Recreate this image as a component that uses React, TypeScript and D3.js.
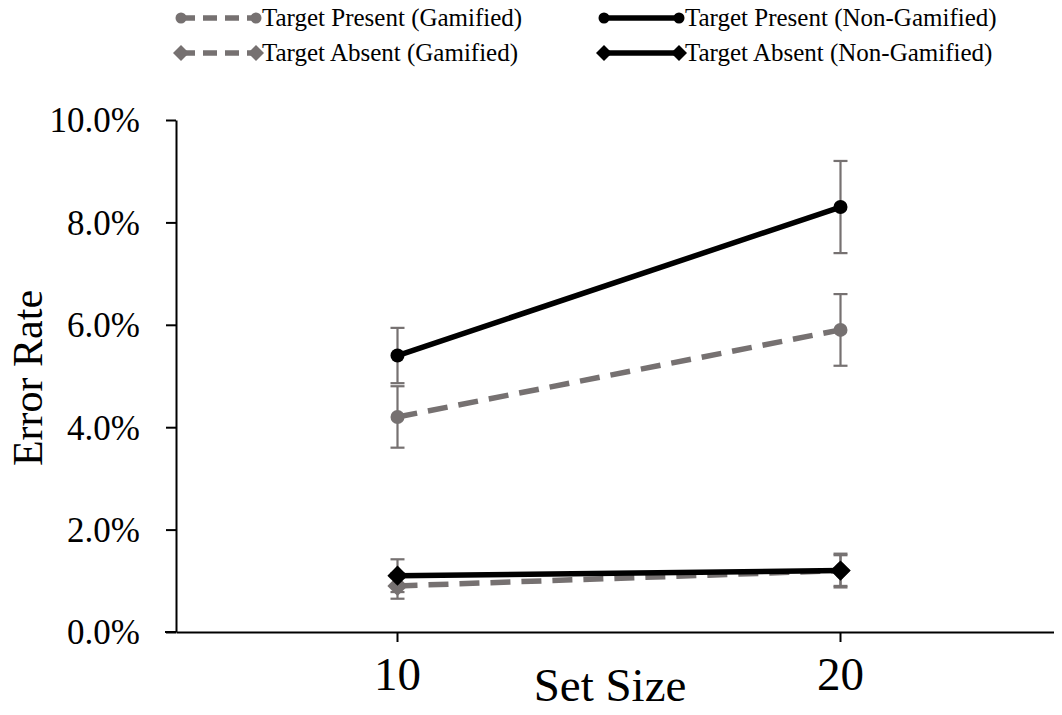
import React, { useRef, useEffect } from 'react';
import * as d3 from 'd3';

const setSizes = ['10', '20'];
const tpGamified = [4.2, 5.9];
const tpGamifiedErr = [0.6, 0.7];
const tpNonGamified = [5.4, 8.3];
const tpNonGamifiedErr = [0.54, 0.9];
const taGamified = [0.9, 1.2];
const taGamifiedErr = [0.25, 0.3];
const taNonGamified = [1.1, 1.2];
const taNonGamifiedErr = [0.32, 0.33];
const yTicks = [0, 2, 4, 6, 8, 10];

const GRAY = '#767171';
const FONT = '"Liberation Serif", "Times New Roman", serif';

const series = [
  { name: 'Target Present (Gamified)', values: tpGamified, err: tpGamifiedErr, color: GRAY, dash: '20,11', marker: 'circle' },
  { name: 'Target Present (Non-Gamified)', values: tpNonGamified, err: tpNonGamifiedErr, color: '#000', dash: null, marker: 'circle' },
  { name: 'Target Absent (Gamified)', values: taGamified, err: taGamifiedErr, color: GRAY, dash: '20,11', marker: 'diamond' },
  { name: 'Target Absent (Non-Gamified)', values: taNonGamified, err: taNonGamifiedErr, color: '#000', dash: null, marker: 'diamond' },
];

const W = 1062;
const H = 715;

const drawMarker = (g, type, x, y, color, size) => {
  if (type === 'circle') {
    g.append('circle').attr('cx', x).attr('cy', y).attr('r', size).attr('fill', color);
  } else {
    const s = size * 1.45;
    g.append('path')
      .attr('d', `M${x},${y - s}L${x + s},${y}L${x},${y + s}L${x - s},${y}Z`)
      .attr('fill', color);
  }
};

const Chart = () => {
  const svgRef = useRef(null);
  useEffect(() => {
    const svg = d3.select(svgRef.current);
    svg.selectAll('*').remove();

    const x = d3.scaleBand().domain(setSizes).range([176, 1062]);
    const y = d3.scaleLinear().domain([0, 10]).range([632, 120]);
    const cx = (d) => x(d) + x.bandwidth() / 2;

    // y axis
    const yAxis = svg.append('g').attr('transform', 'translate(176,0)')
      .call(d3.axisLeft(y).tickValues(yTicks).tickSize(10).tickSizeOuter(0).tickPadding(26).tickFormat((v) => `${v.toFixed(1)}%`));
    yAxis.select('.domain').attr('stroke', '#000').attr('stroke-width', 2);
    yAxis.selectAll('line').attr('stroke', '#000').attr('stroke-width', 2);
    yAxis.selectAll('text').attr('font-family', FONT).attr('font-size', 35).attr('fill', '#000').attr('dy', '0.34em');

    // x axis
    const xAxis = svg.append('g').attr('transform', 'translate(0,632)')
      .call(d3.axisBottom(x).tickSize(10).tickSizeOuter(0).tickPadding(14));
    xAxis.select('.domain').attr('stroke', '#000').attr('stroke-width', 2);
    xAxis.selectAll('line').attr('stroke', '#000').attr('stroke-width', 2);
    xAxis.selectAll('text').attr('font-family', FONT).attr('font-size', 47).attr('fill', '#000').attr('dy', '0.72em');
    svg.append('line').attr('x1', 165).attr('x2', 176).attr('y1', 632).attr('y2', 632).attr('stroke', '#000').attr('stroke-width', 2);

    // axis titles
    svg.append('text').attr('x', 610).attr('y', 701).attr('text-anchor', 'middle')
      .attr('font-family', FONT).attr('font-size', 47).text('Set Size');
    svg.append('text').attr('transform', 'translate(42,378) rotate(-90)').attr('text-anchor', 'middle')
      .attr('font-family', FONT).attr('font-size', 42).text('Error Rate');

    // error bars
    const eb = svg.append('g');
    series.forEach((s) => {
      s.values.forEach((v, i) => {
        const px = cx(setSizes[i]);
        const top = y(v + s.err[i]);
        const bot = y(v - s.err[i]);
        eb.append('line').attr('x1', px).attr('x2', px).attr('y1', top).attr('y2', bot).attr('stroke', GRAY).attr('stroke-width', 2.2);
        [top, bot].forEach((yy) => {
          eb.append('line').attr('x1', px - 7).attr('x2', px + 7).attr('y1', yy).attr('y2', yy).attr('stroke', GRAY).attr('stroke-width', 2.2);
        });
      });
    });

    // lines and markers
    const line = d3.line().x((d, i) => cx(setSizes[i])).y((d) => y(d));
    series.forEach((s) => {
      const g = svg.append('g');
      g.append('path').attr('d', line(s.values)).attr('fill', 'none').attr('stroke', s.color)
        .attr('stroke-width', 5.5).attr('stroke-dasharray', s.dash);
      s.values.forEach((v, i) => drawMarker(g, s.marker, cx(setSizes[i]), y(v), s.color, 7));
    });

    // legend
    const legendPos = [
      { x: 181, y: 18 },
      { x: 604, y: 18 },
      { x: 181, y: 53 },
      { x: 604, y: 53 },
    ];
    series.forEach((s, i) => {
      const p = legendPos[i];
      const g = svg.append('g');
      g.append('line').attr('x1', p.x).attr('x2', p.x + 75).attr('y1', p.y).attr('y2', p.y)
        .attr('stroke', s.color).attr('stroke-width', 5.5).attr('stroke-dasharray', s.dash ? '14,8' : null);
      drawMarker(g, s.marker, p.x, p.y, s.color, 5.5);
      drawMarker(g, s.marker, p.x + 75, p.y, s.color, 5.5);
      g.append('text').attr('x', p.x + 81).attr('y', p.y + 8).attr('font-family', FONT).attr('font-size', 25)
        .attr('fill', '#000').text(s.name);
    });
  }, []);

  return <svg ref={svgRef} width={W} height={H} style={{ display: 'block' }} />;
};

export default function App() {
  return (
    <div style={{ margin: -8, width: W, height: H, background: '#fff' }}>
      <Chart />
    </div>
  );
}
